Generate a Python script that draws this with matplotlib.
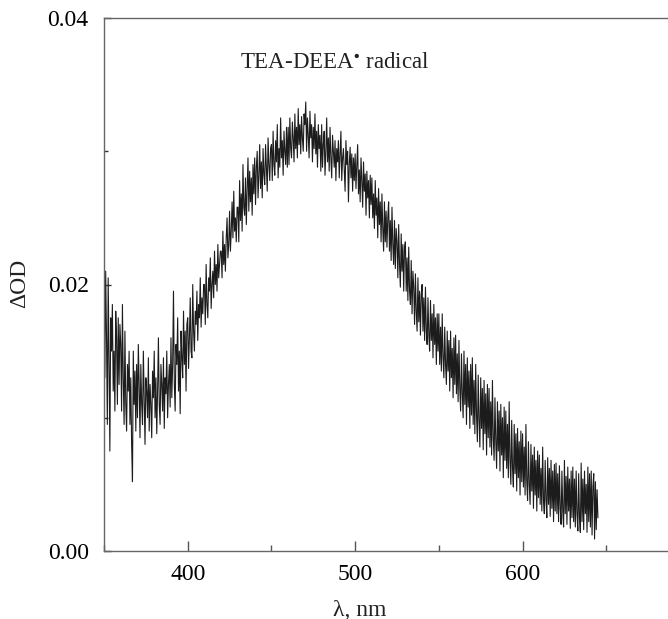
import numpy as np
import matplotlib
matplotlib.use("Agg")
import matplotlib.pyplot as plt
from matplotlib.ticker import MultipleLocator

# ---- data (ΔOD in units of 1e-4), two values per nm, 350..645 nm
od_350 = [190, 130, 210, 160, 95, 205, 145, 75, 175, 150, 185, 120, 150, 105, 180, 160, 110, 175, 125, 170]
od_360 = [155, 105, 185, 130, 95, 165, 110, 90, 140, 120, 150, 95, 130, 80, 52, 150, 110, 135, 90, 140]
od_370 = [100, 155, 125, 85, 140, 110, 95, 150, 115, 80, 130, 120, 100, 145, 90, 125, 110, 85, 135, 115]
od_380 = [150, 100, 130, 88, 120, 160, 110, 95, 140, 125, 105, 145, 92, 130, 118, 150, 100, 125, 140, 108]
od_390 = [160, 115, 140, 195, 125, 105, 155, 140, 175, 120, 150, 103, 165, 145, 130, 180, 140, 165, 120, 170]
od_400 = [175, 137, 160, 190, 150, 145, 200, 165, 150, 180, 170, 195, 158, 185, 175, 205, 168, 190, 178, 200]
od_410 = [200, 170, 215, 185, 175, 205, 195, 220, 182, 200, 210, 190, 225, 200, 215, 195, 230, 205, 215, 225]
od_420 = [225, 205, 240, 215, 230, 210, 235, 250, 220, 230, 255, 225, 240, 262, 235, 270, 240, 250, 232, 258]
od_430 = [258, 232, 278, 248, 268, 240, 290, 258, 252, 280, 245, 272, 295, 255, 285, 262, 280, 252, 290, 268]
od_440 = [295, 260, 288, 300, 265, 282, 305, 272, 292, 265, 302, 283, 275, 305, 288, 270, 310, 290, 278, 302]
od_450 = [305, 278, 315, 290, 282, 308, 292, 320, 280, 302, 288, 325, 295, 308, 282, 315, 300, 290, 318, 288]
od_460 = [318, 290, 325, 302, 295, 322, 310, 292, 328, 302, 318, 295, 332, 305, 320, 298, 326, 310, 300, 328]
od_470 = [320, 337, 300, 325, 312, 295, 330, 310, 320, 292, 318, 302, 328, 298, 315, 288, 320, 302, 312, 285]
od_480 = [320, 288, 305, 315, 282, 300, 325, 292, 310, 285, 318, 295, 280, 312, 300, 288, 308, 278, 302, 292]
od_490 = [308, 280, 298, 315, 278, 295, 302, 285, 270, 308, 290, 300, 262, 290, 303, 280, 298, 270, 295, 278]
od_500 = [298, 272, 290, 305, 268, 286, 262, 295, 278, 258, 292, 270, 283, 252, 285, 265, 278, 250, 282, 260]
od_510 = [280, 250, 268, 242, 278, 252, 265, 235, 272, 245, 262, 232, 268, 242, 225, 262, 232, 255, 228, 250]
od_520 = [262, 225, 248, 218, 258, 230, 215, 248, 212, 242, 232, 205, 245, 215, 198, 238, 210, 230, 195, 228]
od_530 = [232, 195, 220, 188, 228, 195, 185, 218, 178, 210, 198, 170, 208, 180, 165, 205, 172, 195, 162, 192]
od_540 = [200, 165, 190, 158, 198, 165, 155, 190, 162, 150, 188, 158, 178, 145, 185, 155, 175, 140, 178, 150]
od_550 = [178, 140, 168, 135, 178, 145, 130, 168, 140, 125, 165, 135, 158, 120, 165, 130, 152, 115, 160, 125]
od_560 = [162, 118, 148, 112, 158, 122, 105, 148, 118, 100, 150, 110, 140, 95, 145, 108, 135, 92, 140, 102]
od_570 = [145, 95, 128, 88, 140, 102, 82, 132, 98, 78, 130, 92, 122, 76, 128, 88, 118, 72, 125, 85]
od_580 = [122, 78, 112, 72, 128, 85, 68, 115, 82, 62, 112, 75, 105, 60, 110, 72, 100, 55, 108, 68]
od_590 = [105, 62, 95, 55, 112, 68, 50, 98, 62, 48, 95, 58, 88, 45, 92, 55, 82, 42, 90, 52]
od_600 = [88, 48, 78, 42, 95, 52, 38, 82, 50, 35, 80, 45, 72, 32, 78, 42, 68, 30, 75, 40]
od_610 = [72, 35, 62, 30, 78, 38, 28, 68, 38, 25, 70, 35, 62, 26, 68, 32, 60, 22, 65, 30]
od_620 = [66, 28, 58, 22, 64, 32, 20, 60, 30, 18, 68, 28, 56, 20, 63, 30, 54, 17, 60, 25]
od_630 = [63, 22, 54, 18, 60, 28, 15, 58, 25, 14, 66, 22, 54, 16, 60, 28, 50, 14, 63, 22]
od_640 = [58, 18, 60, 12, 48, 58, 9, 52, 16, 46, 25]

delta_od = np.array(od_350 + od_360 + od_370 + od_380 + od_390 + od_400 + od_410
                    + od_420 + od_430 + od_440 + od_450 + od_460 + od_470 + od_480
                    + od_490 + od_500 + od_510 + od_520 + od_530 + od_540 + od_550
                    + od_560 + od_570 + od_580 + od_590 + od_600 + od_610 + od_620
                    + od_630 + od_640) * 1e-4
wl_start, wl_end = 350, 645
wavelength = np.linspace(wl_start, wl_end, len(delta_od))

x_ticks = [400, 500, 600]
y_ticks = [0.00, 0.02, 0.04]
y_tick_labels = ["0.00", "0.02", "0.04"]

plt.rcParams['font.family'] = ['Liberation Serif', 'DejaVu Serif']
plt.rcParams['mathtext.fontset'] = 'stix'

W, H = 668, 619
fig = plt.figure(figsize=(W / 100, H / 100), dpi=100)
left_px, right_px, top_px, bottom_px = 104, 104 + 586, 18, 551
ax = fig.add_axes([left_px / W, 1 - bottom_px / H,
                   (right_px - left_px) / W, (bottom_px - top_px) / H])

ax.plot(wavelength, delta_od, color='#1c1c1c', linewidth=0.8)

ax.set_xlim(350, 700)
ax.set_ylim(0.0, 0.04)
ax.set_xticks(x_ticks)
ax.xaxis.set_minor_locator(MultipleLocator(50))
ax.set_yticks(y_ticks)
ax.set_yticklabels(y_tick_labels)
ax.yaxis.set_minor_locator(MultipleLocator(0.01))

ax.tick_params(axis='x', which='major', direction='in', length=7, width=1.0,
               color='#555555', labelsize=17, pad=9)
ax.tick_params(axis='x', which='minor', direction='in', length=4, width=1.0,
               color='#555555')
ax.tick_params(axis='y', which='major', direction='in', length=5, width=1.0,
               color='#333333', labelsize=17, pad=11)
ax.tick_params(axis='y', which='minor', direction='in', length=3, width=1.0,
               color='#333333')
ax.tick_params(top=False, right=False)

for side in ['left', 'top', 'bottom', 'right']:
    ax.spines[side].set_color('#666666')
    ax.spines[side].set_linewidth(1.0)

ax.text((240 - left_px) / (right_px - left_px), (bottom_px - 68) / (bottom_px - top_px),
        'TEA-DEEA$^{\\bullet}$ radical', transform=ax.transAxes,
        fontsize=16.5, va='baseline', ha='left', color='#222222')

fig.text(360 / W, 1 - 610 / H, 'λ, nm', fontsize=17, ha='center', va='center',
         color='#222222')
fig.text(20 / W, 1 - 283 / H, 'ΔOD', fontsize=17, ha='center', va='center',
         rotation=90, color='#222222')

fig.savefig('out.png', dpi=100)
